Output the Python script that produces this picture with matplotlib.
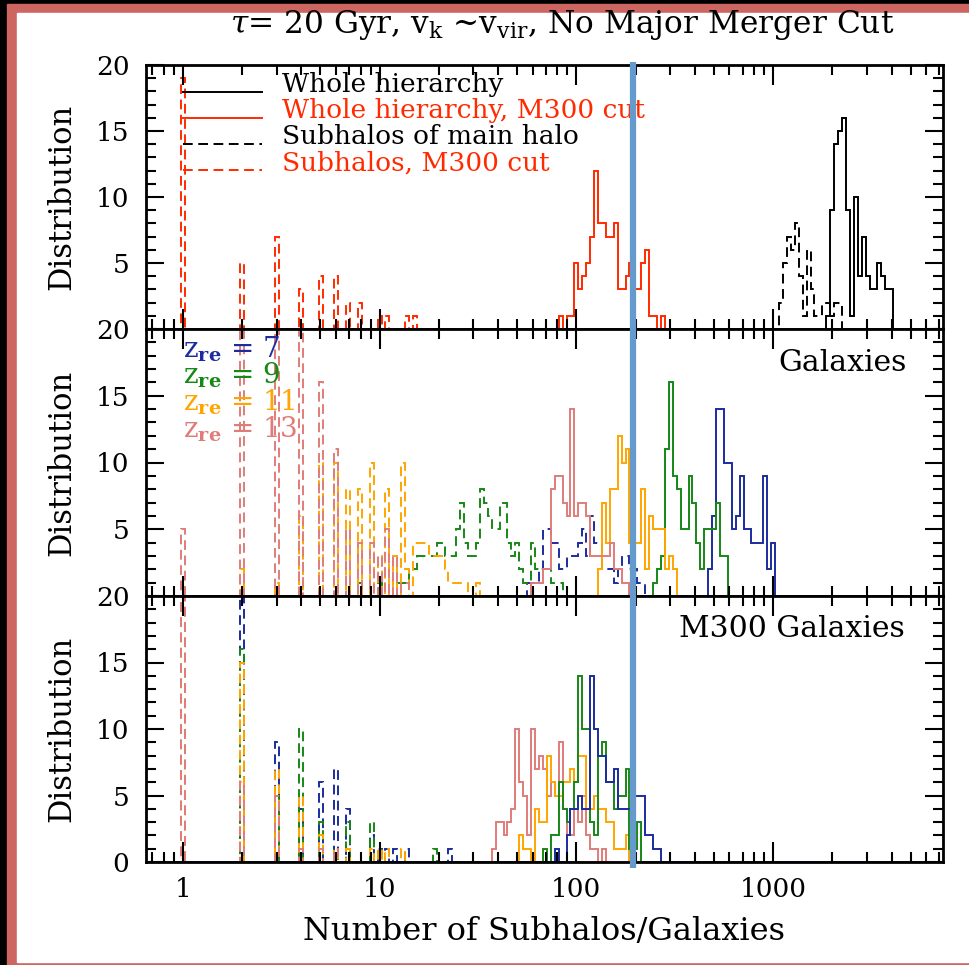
import numpy as np
import matplotlib
matplotlib.use('Agg')
import matplotlib.pyplot as plt
import matplotlib.transforms as mtransforms
from matplotlib.patches import Rectangle
from matplotlib.lines import Line2D
from matplotlib.ticker import FixedLocator, LogLocator, MultipleLocator, NullFormatter

plt.rcParams['font.family'] = 'DejaVu Serif'
plt.rcParams['mathtext.fontset'] = 'dejavuserif'
plt.rcParams['lines.scale_dashes'] = False

# histogram bin width in log10(N)
BIN = 0.02

RED = '#ff2a00'
BLUE = '#1c2c9e'
GREEN = '#168816'
ORANGE = '#ffa500'
PINK = '#e07c78'
CUT_COLOR = '#6699cc'
N_CUT = 195

# --- top panel: subhalo counts ---
# runs: first bin (N) + consecutive bin heights
top_all_start = 1905
top_all = [1, 9, 14, 15, 16, 9, 1, 10, 4, 7, 4, 3, 3, 5, 4, 3, 3]
top_m300_start = 83.2
top_m300 = [1, 0, 1, 1, 5, 3, 4, 5, 7, 12, 8, 8, 7, 7, 8, 3, 3, 4, 5, 3, 3, 5, 6, 1, 1, 0, 1]
top_sub_start = 1096
top_sub = [2, 5, 7, 6, 8, 4, 1, 6, 3, 1, 1, 2, 2, 1, 2, 2]
top_sub_m300_n = [1, 2, 3, 4, 5, 6, 7, 8, 10, 11, 14, 15]
top_sub_m300_h = [19, 5, 7, 3, 4, 4, 2, 2, 1, 1, 1, 1]

# --- middle panel: galaxies, z_re = 7, 9, 11, 13 ---
gal7_start = 479
gal7 = [2, 6, 14, 14, 10, 10, 5, 6, 9, 5, 5, 4, 4, 4, 9, 2, 4]
gal9_start = 251
gal9 = [1, 2, 3, 11, 16, 9, 8, 5, 5, 9, 7, 4, 2, 5, 5, 5, 7, 3, 3]
gal11_start = 132
gal11 = [2, 7, 4, 8, 8, 12, 10, 11, 4, 4, 4, 8, 2, 6, 5, 5, 5, 2, 3, 2]
gal13_start = 60.3
gal13 = [1, 1, 1, 2, 2, 8, 9, 9, 7, 6, 14, 6, 7, 7, 6, 3, 3, 3, 3, 3, 4, 2, 2, 1, 1]

gsub7_start = 57.5
gsub7 = [1, 1, 1, 2, 5, 5, 4, 4, 2, 2, 3, 3, 3, 4, 5, 3, 6, 4, 4, 2, 2, 2, 1, 2, 3, 3, 2, 2, 1, 1]
gsub9_start = 12.6
gsub9 = [1, 1, 1, 2, 2, 3, 3, 3, 3, 3, 4, 4, 3, 3, 3, 5, 7, 4, 3, 3, 4, 8, 7, 6, 5, 5,
         7, 7, 4, 3, 4, 2, 1, 1, 4, 2, 2, 2, 2, 1, 1, 1]
gsub9_n = [8, 10]
gsub9_h = [1, 1]
gsub11_start = 13.8
gsub11 = [2, 0, 4, 4, 4, 4, 3, 3, 3, 3, 2, 1, 1, 1, 1, 1, 0, 0, 1]
gsub11_n = [1, 2, 3, 4, 5, 6, 7, 8, 9, 10, 11, 12, 13]
gsub11_h = [1, 2, 1, 6, 10, 10, 8, 8, 10, 3, 8, 3, 10]
gsub13_n = [1, 2, 3, 4, 5, 6, 7, 8, 9, 10, 11, 12, 13, 14]
gsub13_h = [5, 20, 20, 20, 16, 11, 5, 4, 4, 3, 5, 3, 1, 1]

# --- bottom panel: M300 galaxies ---
m7_start = 79.4
m7 = [1, 0, 0, 2, 4, 4, 5, 4, 4, 14, 10, 8, 8, 6, 6, 7, 4, 4, 4, 4, 5, 5, 5, 2, 2, 1, 1]
m9_start = 69.2
m9 = [1, 0, 2, 2, 6, 4, 3, 4, 6, 14, 10, 10, 3, 2, 8, 9, 6, 6, 4, 5, 5, 7, 1, 1, 3]
m11_start = 52.5
m11 = [2, 1, 1, 0, 4, 3, 3, 8, 6, 5, 5, 6, 6, 7, 6, 8, 8, 4, 4, 5, 4, 4, 3, 3, 1, 1, 1, 2]
m13_start = 38.0
m13 = [1, 3, 3, 2, 3, 4, 10, 6, 5, 2, 10, 7, 8, 7, 5, 6, 5, 9, 4, 2, 2, 4, 3, 5, 2, 1, 1, 0, 1]

msub7_n = [2, 3, 4, 5, 6, 7, 9, 10, 11, 12, 14, 23]
msub7_h = [20, 9, 4, 6, 7, 4, 2, 1, 1, 1, 1, 1]
msub9_n = [2, 3, 4, 5, 6, 7, 9, 10, 19]
msub9_h = [16, 5, 10, 3, 1, 3, 3, 1, 1]
msub11_n = [1, 2, 3, 4, 5, 6, 7, 9, 10, 11, 13]
msub11_h = [20, 15, 7, 5, 2, 1, 1, 1, 1, 1, 1]
msub13_n = [1, 2, 3, 4, 5, 6]
msub13_h = [20, 6, 5, 1, 1, 1]

KMIN, KMAX = -10, 194
edges = 10 ** ((np.arange(KMIN, KMAX + 1) - 0.5) * BIN)


def binned(start=None, run=(), spike_n=(), spike_h=()):
    h = np.zeros(KMAX - KMIN)
    for n, v in zip(spike_n, spike_h):
        h[int(round(np.log10(n) / BIN)) - KMIN] = v
    if start is not None:
        k0 = int(round(np.log10(start) / BIN)) - KMIN
        h[k0:k0 + len(run)] = run
    return h


DASH = (0, (7, 4))
LW = 1.4


def hist(ax, h, color, dashed=False):
    ax.stairs(h, edges, color=color, lw=LW, linestyle=DASH if dashed else '-')


fig = plt.figure(figsize=(9.7, 9.65), dpi=100, facecolor='black')
fig.add_artist(Rectangle((7 / 970, 0), 1, 1 - 4 / 965, transform=fig.transFigure,
                         color='#cd6661', zorder=-3))
fig.add_artist(Rectangle((17 / 970, 3 / 965), 1, 1 - 16 / 965, transform=fig.transFigure,
                         color='white', zorder=-2))

left, width = 146 / 970, 797 / 970
ys = [1 - 329 / 965, 1 - 596 / 965, 1 - 862 / 965]
tops = [1 - 65 / 965, 1 - 329 / 965, 1 - 596 / 965]
axes = [fig.add_axes([left, ys[i], width, tops[i] - ys[i]]) for i in range(3)]
ax1, ax2, ax3 = axes

for ax in axes:
    ax.set_xscale('log')
    ax.set_xlim(0.65, 7300)
    ax.set_ylim(0, 20)
    ax.xaxis.set_major_locator(FixedLocator([1, 10, 100, 1000]))
    ax.xaxis.set_minor_locator(LogLocator(base=10, subs=np.arange(2, 10), numticks=30))
    ax.xaxis.set_minor_formatter(NullFormatter())
    ax.yaxis.set_minor_locator(MultipleLocator(1))
    ax.tick_params(which='both', direction='in', top=True, right=True, width=1.5,
                   labelsize=19)
    ax.tick_params(axis='x', which='major', length=14.5, pad=11)
    ax.tick_params(axis='x', which='minor', length=7)
    ax.tick_params(axis='y', which='major', length=13, pad=12)
    ax.tick_params(axis='y', which='minor', length=7)
    for sp in ax.spines.values():
        sp.set_linewidth(2)
        sp.set_zorder(5)

ax1.set_yticks([5, 10, 15, 20])
ax2.set_yticks([5, 10, 15, 20])
ax3.set_yticks([0, 5, 10, 15, 20])
ax1.tick_params(labelbottom=False)
ax2.tick_params(labelbottom=False)
ax3.set_xticklabels(['1', '10', '100', '1000'])

# top panel
hist(ax1, binned(top_all_start, top_all), 'black')
hist(ax1, binned(top_m300_start, top_m300), RED)
hist(ax1, binned(top_sub_start, top_sub), 'black', dashed=True)
hist(ax1, binned(spike_n=top_sub_m300_n, spike_h=top_sub_m300_h), RED, dashed=True)

legend_rows = [('Whole hierarchy', 'black', '-'),
               ('Whole hierarchy, M300 cut', RED, '-'),
               ('Subhalos of main halo', 'black', DASH),
               ('Subhalos, M300 cut', RED, DASH)]
for i, (lab, col, ls) in enumerate(legend_rows):
    yy = 0.898 - 0.0987 * i
    ax1.plot([0.0464, 0.1456], [yy, yy], transform=ax1.transAxes, color=col, lw=LW,
             linestyle=ls)
    ax1.text(0.1706, yy, lab, transform=ax1.transAxes, color=col, fontsize=19,
             va='baseline')

# middle panel
hist(ax2, binned(gsub7_start, gsub7), BLUE, dashed=True)
hist(ax2, binned(gsub9_start, gsub9, gsub9_n, gsub9_h), GREEN, dashed=True)
hist(ax2, binned(gsub11_start, gsub11, gsub11_n, gsub11_h), ORANGE, dashed=True)
hist(ax2, binned(spike_n=gsub13_n, spike_h=gsub13_h), PINK, dashed=True)
hist(ax2, binned(gal7_start, gal7), BLUE)
hist(ax2, binned(gal9_start, gal9), GREEN)
hist(ax2, binned(gal11_start, gal11), ORANGE)
hist(ax2, binned(gal13_start, gal13), PINK)

zre = [('7', BLUE), ('9', GREEN), ('11', ORANGE), ('13', PINK)]
for i, (z, col) in enumerate(zre):
    ax2.text(0.0464, 0.8946 - 0.1002 * i, r'$\mathrm{z}_{\mathbf{re}}$ = ' + z,
             transform=ax2.transAxes, color=col, fontsize=20, va='baseline')
ax2.text(0.955, 0.843, 'Galaxies', transform=ax2.transAxes, fontsize=21.5,
         ha='right', va='baseline')

# bottom panel
hist(ax3, binned(spike_n=msub7_n, spike_h=msub7_h), BLUE, dashed=True)
hist(ax3, binned(spike_n=msub9_n, spike_h=msub9_h), GREEN, dashed=True)
hist(ax3, binned(spike_n=msub11_n, spike_h=msub11_h), ORANGE, dashed=True)
hist(ax3, binned(spike_n=msub13_n, spike_h=msub13_h), PINK, dashed=True)
hist(ax3, binned(m13_start, m13), PINK)
hist(ax3, binned(m11_start, m11), ORANGE)
hist(ax3, binned(m9_start, m9), GREEN)
hist(ax3, binned(m7_start, m7), BLUE)
ax3.text(0.952, 0.844, 'M300 Galaxies', transform=ax3.transAxes, fontsize=21.5,
         ha='right', va='baseline')

# vertical cut line through all panels
trans = mtransforms.blended_transform_factory(ax1.transData, fig.transFigure)
fig.add_artist(Line2D([N_CUT, N_CUT], [1 - 868 / 965, 1 - 62 / 965], transform=trans,
                      color=CUT_COLOR, lw=4.5, zorder=10, solid_capstyle='butt'))

for yc in [197, 463, 728.5]:
    fig.text(62 / 970, 1 - yc / 965, 'Distribution', rotation=90, ha='center',
             va='center', fontsize=22)

fig.text(562 / 970, 1 - 33 / 965,
         r'$\tau$= 20 Gyr, v$_\mathrm{k}$ ~v$_\mathrm{vir}$, No Major Merger Cut',
         ha='center', va='baseline', fontsize=22.5)
fig.text(544 / 970, 1 - 940 / 965, 'Number of Subhalos/Galaxies', ha='center',
         va='baseline', fontsize=23)

fig.savefig('out.png', dpi=100, facecolor=fig.get_facecolor())
